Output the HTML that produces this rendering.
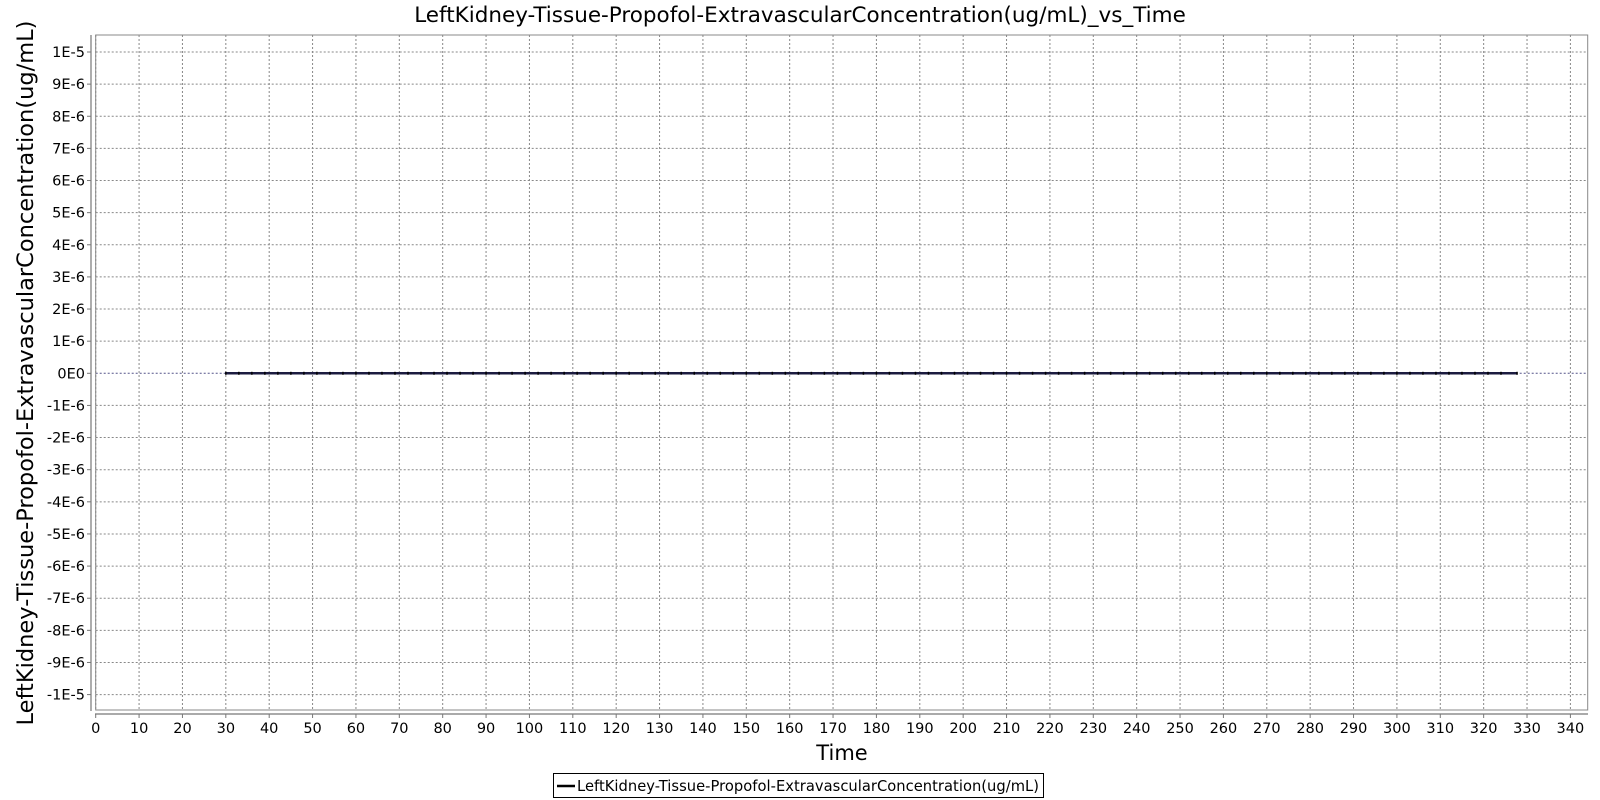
<!DOCTYPE html>
<html><head><meta charset="utf-8"><style>
body{margin:0;background:#fff;}
svg{display:block;font-family:"DejaVu Sans","Liberation Sans",sans-serif;}
</style></head><body>
<svg id="chart" width="1600" height="800" viewBox="0 0 1600 800">
<rect width="1600" height="800" fill="#fff"/>
<text x="800" y="22" text-anchor="middle" font-size="21.5" fill="#000">LeftKidney-Tissue-Propofol-ExtravascularConcentration(ug/mL)_vs_Time</text>
<g id="grid"></g>
<rect x="95.7" y="35" width="1492" height="675" fill="none" stroke="#888" stroke-width="1"/>
<line x1="91" y1="35" x2="91" y2="711" stroke="#777" stroke-width="1.2"/>
<line x1="95" y1="714" x2="1588" y2="714" stroke="#777" stroke-width="1.2"/>
<g id="yticks"></g>
<g id="xticks"></g>
<g id="series"></g>
<text transform="translate(33,373) rotate(-90)" text-anchor="middle" font-size="22.5" fill="#000">LeftKidney-Tissue-Propofol-ExtravascularConcentration(ug/mL)</text>
<text x="842" y="760" text-anchor="middle" font-size="21" fill="#000">Time</text>
<g>
<rect x="553.5" y="773.5" width="490" height="24" fill="#fff" stroke="#000" stroke-width="1"/>
<line x1="557" y1="786" x2="575" y2="786" stroke="#000" stroke-width="2.5"/>
<text x="577" y="791" font-size="14.7" textLength="462" lengthAdjust="spacing" fill="#000">LeftKidney-Tissue-Propofol-ExtravascularConcentration(ug/mL)</text>
</g>
</svg>
<script>
const xTicks=[0,10,20,30,40,50,60,70,80,90,100,110,120,130,140,150,160,170,180,190,200,210,220,230,240,250,260,270,280,290,300,310,320,330,340];
const yTickValues=[1e-5,9e-6,8e-6,7e-6,6e-6,5e-6,4e-6,3e-6,2e-6,1e-6,0,-1e-6,-2e-6,-3e-6,-4e-6,-5e-6,-6e-6,-7e-6,-8e-6,-9e-6,-1e-5];
const yTickLabels=["1E-5","9E-6","8E-6","7E-6","6E-6","5E-6","4E-6","3E-6","2E-6","1E-6","0E0","-1E-6","-2E-6","-3E-6","-4E-6","-5E-6","-6E-6","-7E-6","-8E-6","-9E-6","-1E-5"];
const times=[30,33,36,39,42,45,48,51,54,57,60,63,66,69,72,75,78,81,84,87,90,93,96,99,102,105,108,111,114,117,120,123,126,129,132,135,138,141,144,147,150,153,156,159,162,165,168,171,174,177,180,183,186,189,192,195,198,201,204,207,210,213,216,219,222,225,228,231,234,237,240,243,246,249,252,255,258,261,264,267,270,273,276,279,282,285,288,291,294,297,300,303,306,309,312,315,318,321,324,327.7];
const values=[0,0,0,0,0,0,0,0,0,0,0,0,0,0,0,0,0,0,0,0,0,0,0,0,0,0,0,0,0,0,0,0,0,0,0,0,0,0,0,0,0,0,0,0,0,0,0,0,0,0,0,0,0,0,0,0,0,0,0,0,0,0,0,0,0,0,0,0,0,0,0,0,0,0,0,0,0,0,0,0,0,0,0,0,0,0,0,0,0,0,0,0,0,0,0,0,0,0,0,0];
const NS="http://www.w3.org/2000/svg";
const X=t=>95.7+t*(1570.4-95.7)/340;
const Y=v=>373.3-v*(373.3-52)/1e-5;
const grid=document.getElementById('grid'),yt=document.getElementById('yticks'),xt=document.getElementById('xticks'),ser=document.getElementById('series');
function mk(tag,attrs,parent){const e=document.createElementNS(NS,tag);for(const k in attrs)e.setAttribute(k,attrs[k]);parent.appendChild(e);return e;}
xTicks.forEach(t=>{
  const g=mk('line',{x1:X(t),x2:X(t),y1:35,y2:710,stroke:'#888','stroke-width':1,'stroke-dasharray':'2,2'},grid);
  
  
  const tk=mk('line',{x1:X(t),x2:X(t),y1:714,y2:718,stroke:'#777'},xt);
  
  
  const l=mk('text',{x:X(t),y:733,'text-anchor':'middle','font-size':14.5,fill:'#000'},xt);
  l.textContent=t;
  
  
});
yTickValues.forEach((v,i)=>{
  const g=mk('line',{x1:95.7,x2:1588,y1:Y(v),y2:Y(v),stroke:v===0?'#55558a':'#888','stroke-width':1,'stroke-dasharray':'2,2'},grid);
  
  
  const tk=mk('line',{x1:87,x2:91,y1:Y(v),y2:Y(v),stroke:'#777'},yt);
  
  
  const l=mk('text',{x:85,y:Y(v)+5,'text-anchor':'end','font-size':14.5,fill:'#000'},yt);
  l.textContent=yTickLabels[i];
  
  
});
const pts=times.map((t,i)=>X(t)+','+Y(values[i])).join(' ');
const pl=mk('polyline',{points:pts,fill:'none',stroke:'#1c1c40','stroke-width':2.5},ser);


times.forEach((t,i)=>{
  const m=mk('line',{x1:X(t),x2:X(t),y1:Y(values[i])-1.5,y2:Y(values[i])+1.5,stroke:'#000','stroke-width':1.5},ser);
  
  
});
</script>
</body></html>
